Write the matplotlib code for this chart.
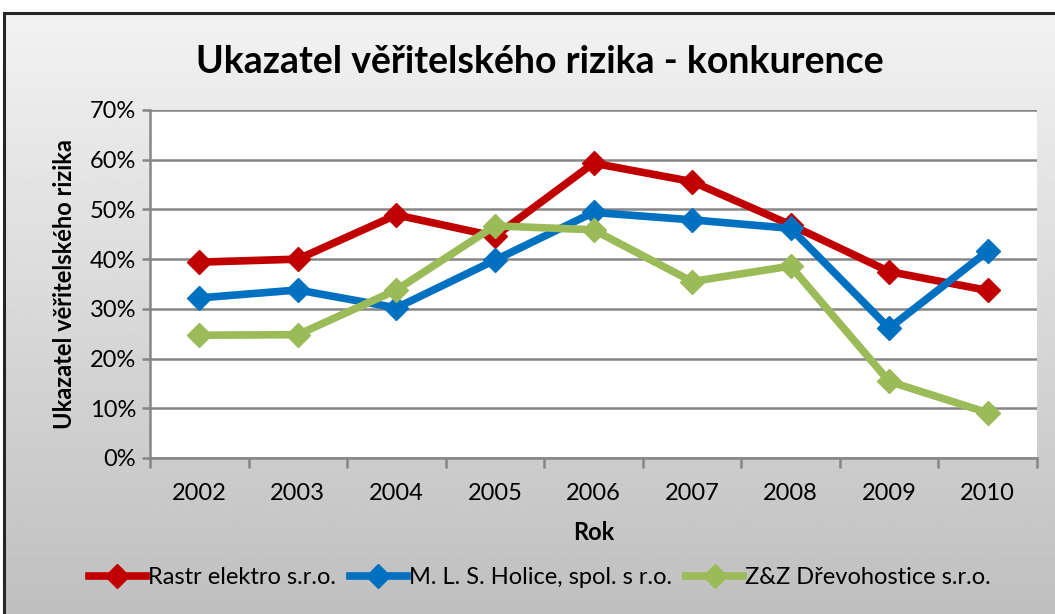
import numpy as np
import matplotlib.pyplot as plt
from matplotlib.patches import Rectangle
from matplotlib.ticker import FuncFormatter, MultipleLocator

plt.rcParams['font.family'] = ['Lato', 'DejaVu Sans']

years = ["2002", "2003", "2004", "2005", "2006", "2007", "2008", "2009", "2010"]
rastr = [39.4, 40.0, 48.9, 44.6, 59.3, 55.6, 46.9, 37.5, 33.7]
mls_holice = [32.2, 33.8, 30.2, 39.8, 49.4, 47.9, 46.2, 26.1, 41.6]
zz_drevo = [24.7, 24.8, 33.8, 46.7, 45.9, 35.5, 38.6, 15.4, 9.1]

series = [
    ("Rastr elektro s.r.o.", rastr, "#C00000"),
    ("M. L. S. Holice, spol. s r.o.", mls_holice, "#0070C0"),
    ("Z&Z Dřevohostice s.r.o.", zz_drevo, "#9BBB59"),
]

W, H = 1055, 614
fig = plt.figure(figsize=(W / 100, H / 100), dpi=100)

# gradient background with border, like the Excel chart area
bg = fig.add_axes([4 / W, 0, 1 - 4 / W, 1 - 13 / H])
grad = np.linspace(0.95, 0.75, 256).reshape(-1, 1)
bg.imshow(grad, cmap="gray", vmin=0, vmax=1, aspect="auto", extent=[0, 1, 0, 1])
bg.set_xlim(0, 1)
bg.set_ylim(0, 1)
bg.axis("off")
fig.patches.append(Rectangle((4 / W, -0.01), 1.0, 1 - 13 / H + 0.01,
                             transform=fig.transFigure, fill=False,
                             edgecolor="#262626", linewidth=2.2, zorder=5))

ax = fig.add_axes([150 / W, 1 - 458 / H, (1037 - 150) / W, (458 - 110) / H])
ax.set_facecolor("white")
x = np.arange(len(years))
for name, vals, col in series:
    ax.plot(x, vals, color=col, linewidth=5.5, marker="D", markersize=12,
            label=name, solid_joinstyle="round", zorder=3)

ax.set_xlim(-0.5, len(years) - 0.5)
ax.set_ylim(0, 70)
ax.yaxis.set_major_locator(MultipleLocator(10))
ax.yaxis.set_major_formatter(FuncFormatter(lambda v, p: f"{v:.0f}%"))
ax.set_xticks(x)
ax.set_xticklabels(years)
ax.set_xticks(np.arange(-0.5, len(years)), minor=True)
ax.tick_params(axis="x", which="major", length=0, pad=18, labelsize=17)
ax.tick_params(axis="x", which="minor", length=7, width=1.8, color="#868686")
ax.tick_params(axis="y", length=6, width=1.8, color="#868686", labelsize=17, pad=4)
ax.grid(axis="y", color="#868686", linewidth=1.8, zorder=1)
for s in ["top", "right"]:
    ax.spines[s].set_visible(False)
for s in ["left", "bottom"]:
    ax.spines[s].set_color("#868686")
    ax.spines[s].set_linewidth(1.8)

ax.set_xlabel("Rok", fontsize=17, fontweight="bold", labelpad=12)
ax.set_ylabel("Ukazatel věřitelského rizika", fontsize=17, fontweight="bold", labelpad=10)

fig.text(540 / W, 1 - 62 / H, "Ukazatel věřitelského rizika - konkurence",
         ha="center", va="center", fontsize=27, fontweight="bold")

fig.legend(loc="center", bbox_to_anchor=(540 / W, 1 - 578 / H), ncol=3,
           frameon=False, fontsize=17, handlelength=2.4, handletextpad=0.1,
           columnspacing=0.6)

fig.savefig("out.png", dpi=100)
